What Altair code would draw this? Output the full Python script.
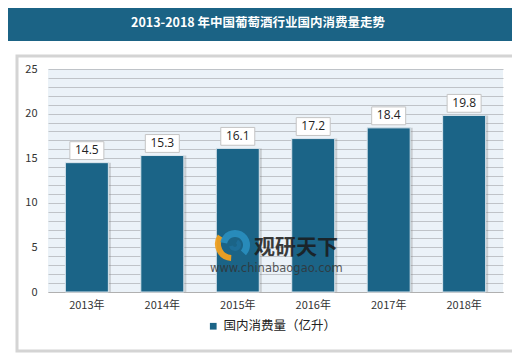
import altair as alt
import pandas as pd

years = ["2013年", "2014年", "2015年", "2016年", "2017年", "2018年"]
values = [14.5, 15.3, 16.1, 17.2, 18.4, 19.8]
series = "国内消费量（亿升）"
title = "2013-2018 年中国葡萄酒行业国内消费量走势"
y_ticks = list(range(0, 26))

BAR = "#1b6487"
FONT = "Noto Sans CJK SC"

df = pd.DataFrame({"year": years, "value": values, "series": [series] * len(years)})

W, H = 455, 223

xscale = alt.Scale(paddingInner=0.43, paddingOuter=0.23)
xaxis = alt.Axis(labelAngle=0, ticks=False, domain=True, domainColor="#b0b0b0",
                 labelPadding=7, labelFontSize=11, labelColor="#333333", labelFont=FONT)
xenc = alt.X("year:N", sort=years, title=None, scale=xscale, axis=xaxis)
yscale = alt.Scale(domain=[0, 25], nice=False)
yaxis = alt.Axis(values=y_ticks, ticks=False, domain=False, grid=True,
                 gridColor="#bfc3c8", gridWidth=1.2,
                 labelExpr="datum.value % 5 == 0 ? datum.label : ''",
                 labelPadding=11, labelFontSize=11, labelColor="#333333", labelFont=FONT)
yenc = alt.Y("value:Q", title=None, scale=yscale, axis=yaxis)

base = alt.Chart(df)
one = pd.DataFrame({"a": [0]})

panel_shadow = alt.Chart(one).mark_rect(
    fill=None, stroke="#d4d4d4", strokeWidth=3
).encode(x=alt.value(-31), x2=alt.value(470), y=alt.value(-13), y2=alt.value(282))

title_band = alt.Chart(one).mark_rect(color="#1b6385").encode(
    x=alt.value(-40), x2=alt.value(465), y=alt.value(-61), y2=alt.value(-28))
title_text = alt.Chart(pd.DataFrame({"t": [title]})).mark_text(
    color="white", fontSize=12.5, fontWeight="bold", font=FONT, align="center", baseline="middle"
).encode(x=alt.value(210), y=alt.value(-46), text="t:N")

shadow = base.mark_bar(color="#7a7a7a", opacity=0.3, xOffset=2.5).encode(x=xenc, y=yenc)

bars = base.mark_bar(stroke="#dbe6ee", strokeWidth=1).encode(
    x=xenc, y=yenc,
    color=alt.Color("series:N", scale=alt.Scale(domain=[series], range=[BAR]),
                    legend=alt.Legend(title=None, orient="none", legendX=159, legendY=251,
                                      symbolType="square", symbolSize=45,
                                      labelFontSize=12.5, labelFont=FONT, labelColor="#222222",
                                      symbolStrokeWidth=0)))

boxes = base.transform_calculate(lo="datum.value + 0.35", hi="datum.value + 2.35").mark_bar(
    width=34, fill="white", stroke="#c4c4c4", strokeWidth=1
).encode(x=xenc, y=alt.Y("lo:Q", title=None, scale=yscale, axis=yaxis), y2="hi:Q")

labels = base.mark_text(fontSize=12, color="#222222", font="Open Sans", baseline="middle", dy=-12.5).encode(
    x=xenc, y=yenc, text=alt.Text("value:Q", format=".1f"))

# watermark logo (approximate)
logo_blue = alt.Chart(one).mark_arc(color="#2a8fc0", opacity=0.9, radius=15, radius2=8,
                                     theta=4.9, theta2=8.6).encode(
    x=alt.value(187), y=alt.value(176))
logo_blue2 = alt.Chart(one).mark_arc(color="#1f6f9a", opacity=0.9, radius=6, radius2=2,
                                      theta=0.5, theta2=4.5).encode(
    x=alt.value(187), y=alt.value(176))
logo_orange = alt.Chart(one).mark_arc(color="#f0a020", opacity=0.95, radius=17, radius2=11,
                                       theta=3.2, theta2=5.3).encode(
    x=alt.value(184), y=alt.value(175))

wm1 = alt.Chart(pd.DataFrame({"t": ["观研天下"]})).mark_text(
    color="#1a1a1a", opacity=0.85, fontSize=21, fontWeight="bold", font=FONT, align="left", baseline="middle"
).encode(x=alt.value(206), y=alt.value(179), text="t:N")
wm2 = alt.Chart(pd.DataFrame({"t": ["www.chinabaogao.com"]})).mark_text(
    color="#333333", opacity=0.8, fontSize=11.5, font="DejaVu Sans", align="left", baseline="middle"
).encode(x=alt.value(162), y=alt.value(200), text="t:N")

chart = alt.layer(
    shadow, bars, boxes, labels, panel_shadow, title_band, title_text,
    logo_orange, logo_blue, logo_blue2, wm1, wm2
).properties(
    width=W, height=H,
    autosize=alt.AutoSizeParams(type="none"),
    padding={"left": 40, "top": 61, "right": 9, "bottom": 64},
    background="white",
).configure_view(fill="#ebf2f8", stroke=None)

chart.save("out.html", embed_options={"renderer": "svg", "actions": False})
